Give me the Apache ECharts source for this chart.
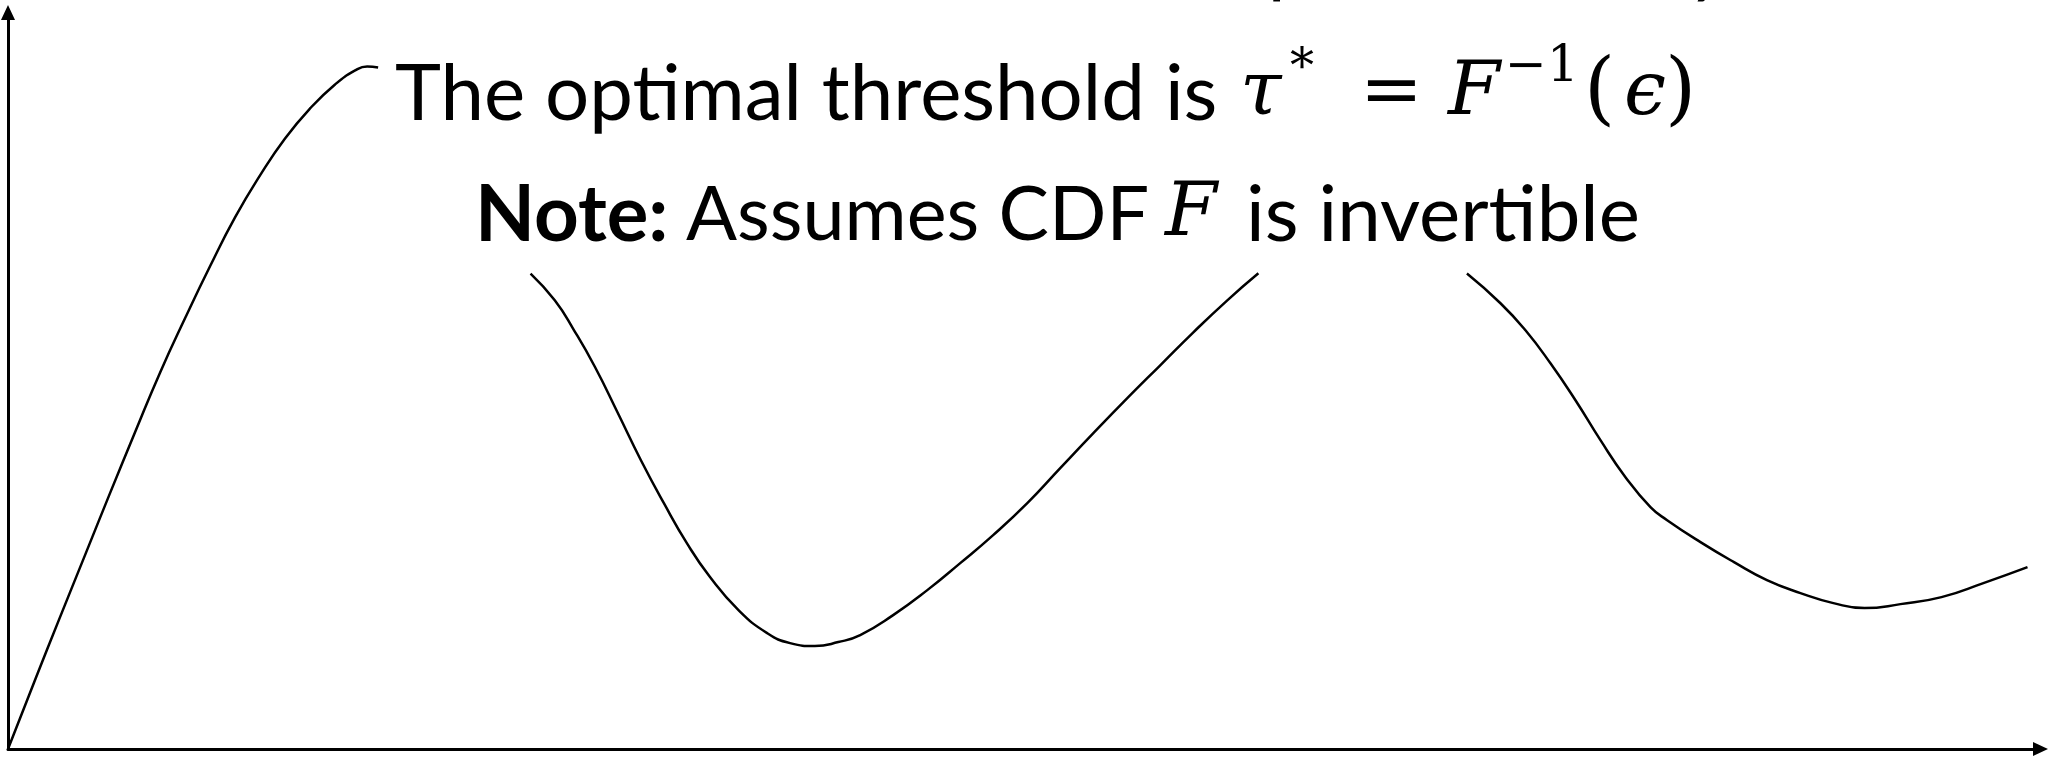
<!DOCTYPE html>
<html>
<head>
<meta charset="utf-8">
<style>
  html, body { margin: 0; padding: 0; background: #fff; }
  #chart { width: 2053px; height: 759px; }
</style>
<script src="https://cdn.jsdelivr.net/npm/echarts@6/dist/echarts.min.js"></script>
</head>
<body>
<div id="chart"></div>
<script>
// Curve pieces as [x, y] in axis units (both axes run 0..100).
const rise = [[0, 0], [1.33, 9.36], [2.56, 17.91], [3.79, 26.32], [5.02, 34.74], [6.25, 43.0],
  [7.48, 51.1], [8.71, 58.48], [9.94, 65.54], [11.17, 72.18], [12.40, 77.88], [13.63, 82.90],
  [14.86, 86.97], [16.09, 90.23], [17.08, 92.13], [17.67, 92.67], [18.21, 92.54]];

const valley = [[25.71, 64.55], [26.90, 60.92], [27.85, 56.85], [28.88, 51.87], [30.01, 45.59],
  [31.14, 39.21], [32.27, 33.38], [33.40, 27.95], [34.53, 23.38], [35.94, 18.86], [37.35, 15.74],
  [38.48, 14.38], [39.70, 13.98], [40.85, 14.52], [41.93, 15.47], [43.55, 18.18], [45.23, 21.57],
  [46.85, 25.24], [48.47, 29.04], [50.15, 33.38], [51.77, 38.13], [53.40, 42.88], [55.07, 47.63],
  [56.69, 52.10], [58.32, 56.58], [59.99, 60.92], [61.52, 64.59]];

const tail = [[71.78, 64.55], [73.43, 60.52], [74.66, 56.85], [75.89, 52.37], [77.12, 47.35],
  [78.35, 41.93], [79.58, 36.91], [80.81, 32.84], [81.63, 31.07], [83.27, 28.09], [84.92, 25.37],
  [86.54, 22.93], [88.19, 21.17], [89.81, 19.81], [91.34, 19.13], [93.11, 19.67], [95.13, 20.62],
  [97.19, 22.52], [99.36, 24.69]];

const pieces = [rise, valley, tail];

const BODY = 'Lato, "Noto Sans", sans-serif';
const MATH = '"DejaVu Serif", serif';

function txt(x, y, text, size, opts) {
  return {
    type: 'text', x: x, y: y, z: 100, silent: true,
    style: Object.assign({
      text: text, fontSize: size, fontFamily: BODY, fill: '#000',
      align: 'left', verticalAlign: 'middle'
    }, opts || {})
  };
}

const chart = echarts.init(document.getElementById('chart'), null, { renderer: 'canvas' });

const axisCommon = {
  type: 'value', min: 0, max: 100,
  axisLine: {
    show: true, symbol: ['none', 'triangle'], symbolSize: [14, 15],
    lineStyle: { color: '#000', width: 3 }
  },
  axisTick: { show: false }, axisLabel: { show: false }, splitLine: { show: false }
};

chart.setOption({
  animation: false,
  backgroundColor: '#fff',
  grid: { left: 8, right: 12.5, top: 12.5, bottom: 10 },
  xAxis: axisCommon,
  yAxis: axisCommon,
  series: pieces.map(function (d) {
    return {
      type: 'line', data: d, smooth: 0.5,
      showSymbol: false, silent: true,
      lineStyle: { color: '#000', width: 2.5 }
    };
  }),
  graphic: [
    // descenders of the heading above the frame
    txt(1268, -36, 'p', 75),
    txt(1688, -36, 'y', 75),
    // first line
    txt(395, 95, 'The optimal threshold is', 78),
    txt(1240, 95, 'τ', 75, { fontFamily: MATH, fontStyle: 'italic' }),
    txt(1290, 70, '*', 48, { fontFamily: MATH }),
    txt(1360, 95, '=', 75, { fontFamily: MATH }),
    txt(1448, 95, 'F', 75, { fontFamily: MATH, fontStyle: 'italic' }),
    txt(1505, 68, '−1', 50, { fontFamily: MATH }),
    txt(1584, 94, '(', 80, { fontFamily: MATH }),
    txt(1624, 95, 'ϵ', 75, { fontFamily: MATH, fontStyle: 'italic' }),
    txt(1665, 94, ')', 80, { fontFamily: MATH }),
    // second line
    txt(475, 216, 'Note:', 78, { fontWeight: 'bold' }),
    txt(686, 216, 'Assumes CDF', 75.5),
    txt(1165, 216, 'F', 75, { fontFamily: MATH, fontStyle: 'italic' }),
    txt(1246, 216, 'is invertible', 78)
  ]
});
</script>
</body>
</html>
